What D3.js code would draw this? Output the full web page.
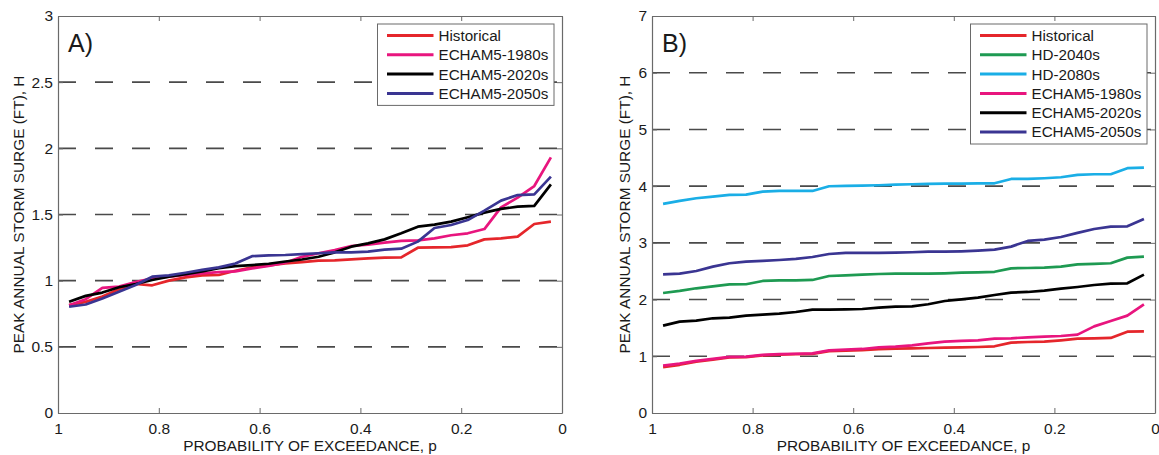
<!DOCTYPE html>
<html>
<head>
<meta charset="utf-8">
<script src="https://cdn.jsdelivr.net/npm/d3@7"></script>
<style>
  body { margin: 0; background: #fff; }
  svg { display: block; }
  text { font-family: "Liberation Sans", Arial, Helvetica, sans-serif; fill: #1a1a1a; }
</style>
</head>
<body>
<svg id="chart" width="1159" height="455"></svg>
<script>
// Probability of exceedance (x) for each ranked annual peak
const prob = [0.978,0.945,0.912,0.879,0.846,0.813,0.780,0.747,0.714,0.681,0.648,0.615,0.582,0.549,0.516,
              0.483,0.451,0.418,0.385,0.352,0.319,0.286,0.253,0.220,0.187,0.154,0.121,0.088,0.055,0.022];

// Panel A series
const histA  = [0.815,0.84,0.88,0.935,0.975,0.965,1.0,1.025,1.04,1.043,1.075,1.1,1.115,1.13,1.14,
                1.151,1.154,1.161,1.169,1.174,1.176,1.249,1.252,1.254,1.267,1.312,1.32,1.333,1.428,1.446];
const e1980A = [0.815,0.86,0.945,0.955,0.99,1.018,1.03,1.043,1.055,1.065,1.07,1.093,1.111,1.136,1.18,
                1.207,1.232,1.262,1.272,1.287,1.3,1.305,1.32,1.343,1.358,1.39,1.554,1.627,1.715,1.932];
const e2020A = [0.84,0.885,0.91,0.95,0.975,1.005,1.03,1.05,1.07,1.095,1.11,1.118,1.128,1.145,1.16,
                1.181,1.214,1.257,1.282,1.312,1.358,1.408,1.423,1.446,1.479,1.514,1.542,1.559,1.565,1.728];
const e2050A = [0.803,0.82,0.865,0.917,0.967,1.03,1.04,1.06,1.081,1.1,1.13,1.185,1.191,1.194,1.2,
                1.207,1.214,1.214,1.219,1.234,1.242,1.295,1.398,1.421,1.458,1.529,1.605,1.647,1.652,1.786];

// Panel B series
const histB  = [0.81,0.85,0.905,0.94,0.98,0.985,1.015,1.03,1.037,1.042,1.09,1.1,1.11,1.125,1.135,
                1.14,1.146,1.152,1.158,1.164,1.176,1.24,1.252,1.258,1.282,1.311,1.317,1.323,1.434,1.44];
const hd2040B = [2.116,2.152,2.199,2.234,2.269,2.27,2.328,2.34,2.34,2.346,2.416,2.428,2.44,2.451,2.457,
                 2.457,2.457,2.463,2.475,2.481,2.49,2.551,2.557,2.563,2.581,2.622,2.628,2.64,2.74,2.757];
const hd2080B = [3.686,3.739,3.786,3.815,3.845,3.85,3.904,3.915,3.915,3.915,3.998,4.004,4.01,4.016,4.027,
                 4.033,4.04,4.045,4.045,4.05,4.05,4.127,4.127,4.139,4.157,4.198,4.21,4.21,4.316,4.327];
const e1980B = [0.835,0.87,0.92,0.955,0.99,0.995,1.025,1.037,1.045,1.05,1.105,1.117,1.129,1.158,1.17,
                1.193,1.229,1.258,1.27,1.282,1.311,1.317,1.335,1.346,1.358,1.382,1.528,1.623,1.717,1.917];
const e2020B = [1.54,1.611,1.628,1.67,1.681,1.717,1.734,1.752,1.781,1.822,1.822,1.828,1.834,1.858,1.875,
                1.881,1.917,1.975,2.005,2.034,2.081,2.122,2.134,2.157,2.193,2.222,2.257,2.281,2.287,2.44];
const e2050B = [2.446,2.457,2.504,2.581,2.64,2.669,2.681,2.698,2.716,2.751,2.804,2.822,2.822,2.822,2.828,
                2.834,2.845,2.845,2.851,2.863,2.88,2.934,3.034,3.057,3.104,3.175,3.245,3.286,3.292,3.422];

// Tick labels
const xTicks  = [1, 0.8, 0.6, 0.4, 0.2, 0];
const yTicksA = [0, 0.5, 1, 1.5, 2, 2.5, 3];
const yTicksB = [0, 1, 2, 3, 4, 5, 6, 7];

const namesA = ["Historical", "ECHAM5-1980s", "ECHAM5-2020s", "ECHAM5-2050s"];
const namesB = ["Historical", "HD-2040s", "HD-2080s", "ECHAM5-1980s", "ECHAM5-2020s", "ECHAM5-2050s"];

const colors = {
  "Historical": "#e5262b",
  "HD-2040s": "#1e9a52",
  "HD-2080s": "#1aaee6",
  "ECHAM5-1980s": "#e8157e",
  "ECHAM5-2020s": "#000000",
  "ECHAM5-2050s": "#3a3592"
};

const svg = d3.select("#chart");
svg.append("rect").attr("width", 1159).attr("height", 455).attr("fill", "#fff");

const frameColor = "#6a6a6a";
const fontStack = '"Liberation Sans", Arial, Helvetica, sans-serif';

function drawPanel(opt) {
  const { left, top, width, height, ymax, yTicks, series, names, label, yTitleX } = opt;
  const g = svg.append("g").attr("transform", `translate(${left},${top})`);
  const x = d3.scaleLinear().domain([1, 0]).range([0, width]);
  const y = d3.scaleLinear().domain([0, ymax]).range([height, 0]);

  // dashed grid lines at inner ticks
  g.append("g").selectAll("line")
    .data(yTicks.filter(v => v > 0 && v < ymax))
    .join("line")
    .attr("x1", 0).attr("x2", width)
    .attr("y1", d => y(d)).attr("y2", d => y(d))
    .attr("stroke", "#4a4a4a").attr("stroke-width", 1.6)
    .attr("stroke-dasharray", "18,19");

  // axes (ticks inward on all four sides)
  const styleAxis = sel => {
    sel.select(".domain").attr("stroke", frameColor).attr("stroke-width", 1.2);
    sel.selectAll(".tick line").attr("stroke", frameColor).attr("stroke-width", 1);
    sel.selectAll(".tick text").attr("font-size", 15.5).attr("fill", "#1a1a1a")
      .attr("font-family", fontStack);
  };
  g.append("g").attr("transform", `translate(0,${height})`)
    .call(d3.axisBottom(x).tickValues(xTicks).tickSize(-5).tickSizeOuter(0).tickPadding(10)
      .tickFormat(d3.format("")))
    .call(styleAxis);
  g.append("g")
    .call(d3.axisTop(x).tickValues(xTicks).tickSize(-5).tickSizeOuter(0).tickFormat(""))
    .call(styleAxis);
  g.append("g")
    .call(d3.axisLeft(y).tickValues(yTicks).tickSize(-5).tickSizeOuter(0).tickPadding(5)
      .tickFormat(d3.format("")))
    .call(styleAxis);
  g.append("g").attr("transform", `translate(${width},0)`)
    .call(d3.axisRight(y).tickValues(yTicks).tickSize(-5).tickSizeOuter(0).tickFormat(""))
    .call(styleAxis);

  // lines
  const line = d3.line().x(d => x(d[0])).y(d => y(d[1]));
  names.forEach((n, i) => {
    g.append("path")
      .datum(prob.map((p, j) => [p, series[i][j]]))
      .attr("fill", "none")
      .attr("stroke", colors[n])
      .attr("stroke-width", 2.7)
      .attr("stroke-linejoin", "round")
      .attr("d", line);
  });

  // panel label
  g.append("text").attr("x", 10).attr("y", 36).attr("font-size", 25).text(label);

  // legend
  const rowH = 19.3, lw = 176.5;
  const lh = 11.5 + (names.length - 1) * rowH + 12;
  const lg = g.append("g").attr("transform", `translate(${width - 8 - lw},8)`);
  lg.append("rect").attr("width", lw).attr("height", lh)
    .attr("fill", "#fff").attr("stroke", frameColor).attr("stroke-width", 1);
  names.forEach((n, i) => {
    const cy = 11.5 + i * rowH;
    lg.append("line").attr("x1", 9.5).attr("x2", 56).attr("y1", cy).attr("y2", cy)
      .attr("stroke", colors[n]).attr("stroke-width", 3);
    lg.append("text").attr("x", 61).attr("y", cy + 5.4).attr("font-size", 15.2).text(n);
  });

  // axis titles
  g.append("text")
    .attr("x", width / 2).attr("y", height + 38)
    .attr("text-anchor", "middle").attr("font-size", 15.4)
    .text("PROBABILITY OF EXCEEDANCE, p");
  g.append("text")
    .attr("transform", `translate(${yTitleX - left},${height / 2}) rotate(-90)`)
    .attr("text-anchor", "middle").attr("font-size", 15.4)
    .text("PEAK ANNUAL STORM SURGE (FT), H");
}

drawPanel({
  left: 58, top: 16, width: 504, height: 397, ymax: 3, yTicks: yTicksA,
  series: [histA, e1980A, e2020A, e2050A], names: namesA, label: "A)", yTitleX: 23.5
});
drawPanel({
  left: 652, top: 16, width: 503, height: 397, ymax: 7, yTicks: yTicksB,
  series: [histB, hd2040B, hd2080B, e1980B, e2020B, e2050B], names: namesB, label: "B)", yTitleX: 629.5
});
</script>
</body>
</html>
